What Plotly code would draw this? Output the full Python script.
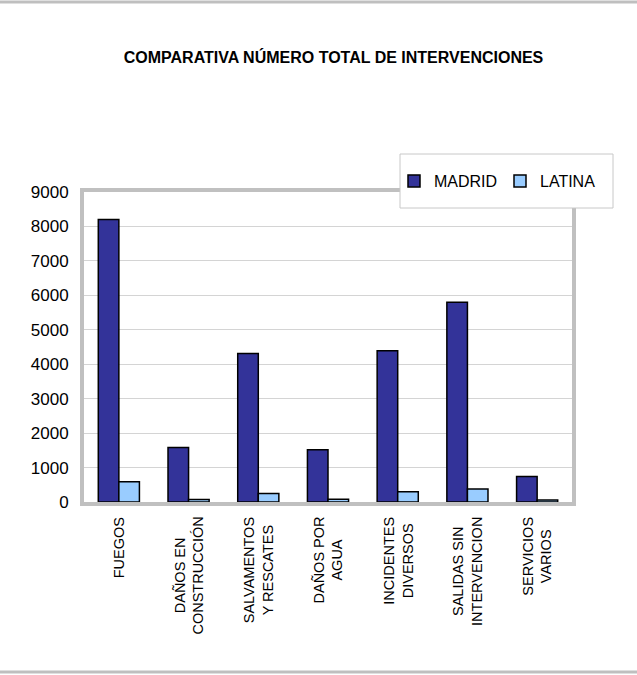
import plotly.graph_objects as go

categories = ['FUEGOS', 'DAÑOS EN<br>CONSTRUCCIÓN', 'SALVAMENTOS<br>Y RESCATES', 'DAÑOS POR<br>AGUA',
              'INCIDENTES<br>DIVERSOS', 'SALIDAS SIN<br>INTERVENCION', 'SERVICIOS<br>VARIOS']
madrid = [8200, 1580, 4310, 1520, 4390, 5800, 740]
latina = [590, 70, 250, 80, 300, 380, 60]

W, H = 637, 675
L, R, T, B = 84, 65, 192, 173


def py(p):
    # pixel row -> paper y
    return (H - B - p) / (H - T - B)


def px(p):
    return (p - L) / (W - L - R)


fig = go.Figure()
fig.add_trace(go.Bar(x=categories, y=madrid, name='MADRID',
                     marker=dict(color='#333399', line=dict(color='black', width=1.5))))
fig.add_trace(go.Bar(x=categories, y=latina, name='LATINA',
                     marker=dict(color='#99ccff', line=dict(color='black', width=1.5))))

# category labels, rotated and centred line by line
for c in categories:
    fig.add_annotation(x=c, y=py(515), xref='x', yref='paper', text=c, showarrow=False,
                       textangle=-90, xanchor='center', yanchor='top', align='center',
                       font=dict(size=14.5, color='black'))

shapes = [
    # outer frame lines
    dict(type='line', xref='paper', yref='paper', x0=px(0), x1=px(W), y0=py(2), y1=py(2),
         line=dict(color='#bfbfbf', width=3)),
    dict(type='line', xref='paper', yref='paper', x0=px(0), x1=px(W), y0=py(672), y1=py(672),
         line=dict(color='#bfbfbf', width=3)),
    # legend box
    dict(type='rect', xref='paper', yref='paper', x0=px(400), x1=px(613), y0=py(208), y1=py(154),
         fillcolor='white', line=dict(color='#c8c8c8', width=1), layer='above'),
]

fig.update_layout(
    width=W, height=H,
    margin=dict(l=L, r=R, t=T, b=B),
    paper_bgcolor='white', plot_bgcolor='white',
    font=dict(family='Liberation Sans, Arial', color='black'),
    title=dict(text='<b>COMPARATIVA NÚMERO TOTAL DE INTERVENCIONES</b>', x=333.5 / W, xanchor='center',
               y=1 - 57 / H, yanchor='middle', font=dict(size=16, color='black')),
    barmode='group', bargap=0.41, bargroupgap=0,
    showlegend=True,
    legend=dict(orientation='h', x=px(394), y=py(164), xanchor='left', yanchor='top',
                bgcolor='rgba(0,0,0,0)', font=dict(size=16), entrywidth=61, itemclick=False),
    shapes=shapes,
)
fig.update_xaxes(showticklabels=False, showgrid=False, showline=True, linewidth=4,
                 linecolor='#c0c0c0', mirror=True)
fig.update_yaxes(range=[0, 9000], dtick=1000, showgrid=True, gridcolor='#d4d4d4', gridwidth=1,
                 showline=True, linewidth=4, linecolor='#c0c0c0', mirror=True, zeroline=False,
                 tickfont=dict(size=17), ticks='', ticklabelstandoff=8)

fig.write_html("out.html", config={'displayModeBar': False},
               post_script="document.body.style.margin='0';"
                           "document.body.style.overflow='hidden';"
                           "document.documentElement.style.overflow='hidden';")
